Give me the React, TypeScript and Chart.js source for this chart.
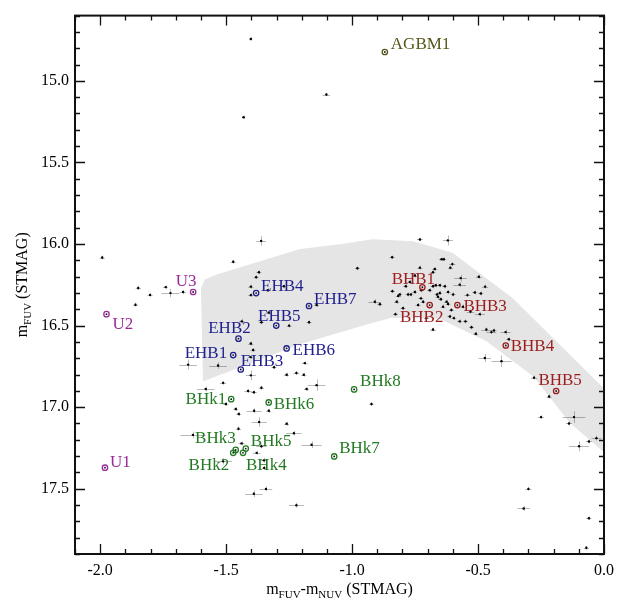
import { useEffect, useRef } from 'react';
import { Chart, registerables } from 'chart.js';

Chart.register(...registerables);

// Axis ticks
const xTicks = [-2.0, -1.5, -1.0, -0.5, 0.0];
const yTicks = [15.0, 15.5, 16.0, 16.5, 17.0, 17.5];

// Field stars: colour, magnitude and their uncertainties
const starX = [
  -1.402, -1.431, -1.102, -1.992, -1.849, -1.802, -1.860, -1.740, -1.721, -1.671,
  -1.361, -1.472, -1.370, -1.381, -1.402, -1.402, -1.335, -1.271, -1.438, -1.360,
  -1.331, -1.250, -1.171, -1.141, -1.402, -1.393, -1.403, -1.651, -1.532, -1.402,
  -1.310, -1.188, -1.260, -1.221, -1.192, -1.141, -1.181, -1.512, -1.581, -1.413,
  -1.360, -1.390, -1.501, -1.462, -1.450, -1.389, -1.331, -1.369, -1.260, -1.451,
  -1.231, -1.632, -1.439, -1.360, -1.379, -1.161, -1.512, -1.350, -1.349, -1.342,
  -1.390, -1.221, -0.731, -0.620, -0.841, -0.645, -0.636, -0.979, -0.731, -0.672,
  -0.602, -0.610, -0.679, -0.569, -0.497, -0.751, -0.771, -0.787, -0.679, -0.668,
  -0.652, -0.632, -0.573, -0.472, -0.840, -0.811, -0.817, -0.778, -0.767, -0.751,
  -0.725, -0.692, -0.663, -0.652, -0.619, -0.599, -0.542, -0.513, -0.489, -0.823,
  -0.727, -0.718, -0.659, -0.648, -0.625, -0.619, -0.910, -0.890, -0.798, -0.738,
  -0.639, -0.606, -0.560, -0.530, -0.493, -0.828, -0.612, -0.596, -0.573, -0.550,
  -0.705, -0.679, -0.526, -0.509, -0.467, -0.447, -0.437, -0.391, -0.378, -0.473,
  -0.407, -0.278, -0.218, -0.250, -0.119, -0.139, -0.060, -0.030, -0.099, -0.923,
  -0.300, -0.319, -0.060, -0.070,
];
const starY = [
  14.743, 15.223, 15.084, 16.083, 16.270, 16.312, 16.372, 16.264, 16.301, 16.294,
  15.981, 16.109, 16.173, 16.203, 16.261, 16.313, 16.283, 16.259, 16.474, 16.480,
  16.420, 16.500, 16.480, 16.374, 16.610, 16.650, 16.693, 16.739, 16.745, 16.805,
  16.755, 16.730, 16.801, 16.791, 16.801, 16.865, 16.889, 16.851, 16.889, 16.901,
  16.881, 16.909, 16.981, 17.011, 17.042, 17.022, 17.022, 17.091, 17.102, 17.132,
  17.160, 17.170, 17.222, 17.240, 17.280, 17.230, 17.332, 17.326, 17.372, 17.501,
  17.531, 17.601, 15.972, 15.978, 16.081, 16.093, 16.093, 16.149, 16.145, 16.153,
  16.123, 16.145, 16.173, 16.209, 16.201, 16.193, 16.233, 16.259, 16.259, 16.253,
  16.253, 16.259, 16.249, 16.261, 16.289, 16.309, 16.318, 16.309, 16.309, 16.294,
  16.283, 16.283, 16.309, 16.300, 16.294, 16.309, 16.313, 16.297, 16.303, 16.354,
  16.333, 16.354, 16.324, 16.339, 16.354, 16.368, 16.354, 16.369, 16.393, 16.374,
  16.384, 16.404, 16.384, 16.414, 16.430, 16.430, 16.444, 16.454, 16.474, 16.474,
  16.454, 16.524, 16.510, 16.550, 16.524, 16.540, 16.530, 16.540, 16.584, 16.699,
  16.718, 16.819, 16.935, 17.061, 17.061, 17.100, 17.210, 17.190, 17.240, 16.981,
  17.501, 17.621, 17.681, 17.862,
];
const starXErr = [
  0.006, 0.006, 0.015, 0.010, 0.010, 0.010, 0.010, 0.010, 0.035, 0.012,
  0.020, 0.010, 0.010, 0.010, 0.010, 0.010, 0.010, 0.010, 0.010, 0.010,
  0.010, 0.010, 0.010, 0.010, 0.010, 0.010, 0.010, 0.035, 0.035, 0.020,
  0.010, 0.012, 0.010, 0.012, 0.010, 0.035, 0.010, 0.012, 0.035, 0.015,
  0.010, 0.012, 0.010, 0.010, 0.010, 0.030, 0.010, 0.030, 0.010, 0.010,
  0.030, 0.050, 0.012, 0.020, 0.015, 0.040, 0.035, 0.012, 0.010, 0.025,
  0.035, 0.030, 0.012, 0.020, 0.010, 0.010, 0.010, 0.010, 0.010, 0.010,
  0.012, 0.010, 0.010, 0.025, 0.012, 0.010, 0.010, 0.010, 0.010, 0.010,
  0.010, 0.010, 0.025, 0.012, 0.010, 0.010, 0.010, 0.010, 0.010, 0.010,
  0.010, 0.010, 0.010, 0.010, 0.010, 0.010, 0.012, 0.010, 0.010, 0.010,
  0.010, 0.010, 0.010, 0.010, 0.010, 0.010, 0.025, 0.010, 0.010, 0.010,
  0.010, 0.010, 0.010, 0.015, 0.020, 0.010, 0.010, 0.010, 0.010, 0.010,
  0.010, 0.012, 0.010, 0.010, 0.020, 0.020, 0.010, 0.020, 0.010, 0.025,
  0.040, 0.012, 0.010, 0.012, 0.045, 0.012, 0.012, 0.020, 0.040, 0.010,
  0.012, 0.025, 0.010, 0.010,
];
const starYErr = [
  0.010, 0.010, 0.010, 0.012, 0.012, 0.012, 0.012, 0.012, 0.025, 0.012,
  0.030, 0.012, 0.012, 0.012, 0.012, 0.012, 0.012, 0.012, 0.015, 0.012,
  0.012, 0.012, 0.012, 0.012, 0.012, 0.012, 0.012, 0.030, 0.020, 0.030,
  0.012, 0.012, 0.012, 0.012, 0.012, 0.035, 0.012, 0.012, 0.015, 0.012,
  0.012, 0.012, 0.012, 0.012, 0.012, 0.015, 0.012, 0.030, 0.012, 0.012,
  0.015, 0.020, 0.012, 0.012, 0.012, 0.020, 0.020, 0.015, 0.012, 0.015,
  0.020, 0.015, 0.010, 0.030, 0.010, 0.010, 0.010, 0.012, 0.012, 0.012,
  0.012, 0.012, 0.012, 0.020, 0.012, 0.012, 0.012, 0.012, 0.012, 0.012,
  0.012, 0.012, 0.015, 0.012, 0.012, 0.012, 0.012, 0.012, 0.012, 0.012,
  0.012, 0.012, 0.012, 0.012, 0.012, 0.012, 0.012, 0.012, 0.012, 0.012,
  0.012, 0.012, 0.012, 0.012, 0.012, 0.012, 0.015, 0.012, 0.012, 0.012,
  0.012, 0.012, 0.012, 0.012, 0.012, 0.012, 0.012, 0.012, 0.012, 0.012,
  0.012, 0.012, 0.012, 0.012, 0.012, 0.012, 0.012, 0.015, 0.012, 0.025,
  0.035, 0.012, 0.012, 0.012, 0.035, 0.012, 0.012, 0.015, 0.030, 0.012,
  0.012, 0.015, 0.012, 0.012,
];

// Named stars
const namedLabels = [
  'AGBM1', 'U1', 'U2', 'U3',
  'EHB1', 'EHB2', 'EHB3', 'EHB4', 'EHB5', 'EHB6', 'EHB7',
  'BHB1', 'BHB2', 'BHB3', 'BHB4', 'BHB5',
  'BHk1', 'BHk2', 'BHk3', 'BHk4', 'BHk5', 'BHk6', 'BHk7', 'BHk8',
];
const namedX = [
  -0.870, -1.981, -1.975, -1.631,
  -1.472, -1.451, -1.442, -1.381, -1.301, -1.260, -1.171,
  -0.721, -0.692, -0.582, -0.390, -0.190,
  -1.480, -1.472, -1.462, -1.433, -1.422, -1.331, -1.071, -0.992,
];
const namedY = [
  14.823, 17.371, 16.430, 16.294,
  16.681, 16.580, 16.769, 16.301, 16.500, 16.640, 16.380,
  16.265, 16.374, 16.374, 16.622, 16.901,
  16.951, 17.280, 17.262, 17.280, 17.254, 16.971, 17.302, 16.891,
];
const namedGroup = [
  'AGB', 'U', 'U', 'U',
  'EHB', 'EHB', 'EHB', 'EHB', 'EHB', 'EHB', 'EHB',
  'BHB', 'BHB', 'BHB', 'BHB', 'BHB',
  'BHk', 'BHk', 'BHk', 'BHk', 'BHk', 'BHk', 'BHk', 'BHk',
];

// Outline of the shaded horizontal-branch band (upper edge, then lower edge back)
const bandX = [
  -1.600, -1.585, -1.537, -1.207, -1.049, -0.918, -0.759, -0.652, -0.600, -0.362, 0.0,
  0.0, -0.136, -0.279, -0.465, -0.652, -0.843, -0.942, -1.207, -1.592, -1.600,
];
const bandY = [
  16.271, 16.217, 16.187, 16.031, 16.001, 15.971, 15.983, 16.031, 16.055, 16.332, 16.885,
  17.276, 17.096, 16.813, 16.597, 16.458, 16.452, 16.494, 16.614, 16.843, 16.271,
];

const groupColors: Record<string, string> = {
  AGB: '#56561a',
  U: '#9a2a9a',
  EHB: '#1e1e8c',
  BHB: '#9c1c1c',
  BHk: '#237a23',
};

// Label placement relative to each marker: [dx, dy, align]
const labelPlacement: Record<string, [number, number, CanvasTextAlign]> = {
  AGBM1: [6, -9, 'left'],
  U1: [5, -7, 'left'],
  U2: [6, 9, 'left'],
  U3: [-7, -12, 'center'],
  EHB1: [-6, -3, 'right'],
  EHB2: [-9, -12, 'center'],
  EHB3: [0, -9, 'left'],
  EHB4: [5, -8, 'left'],
  EHB5: [3, -11, 'center'],
  EHB6: [6, 1, 'left'],
  EHB7: [5, -8, 'left'],
  BHB1: [-9, -9, 'center'],
  BHB2: [-8, 11, 'center'],
  BHB3: [6, 0, 'left'],
  BHB4: [5, 0, 'left'],
  BHB5: [4, -12, 'center'],
  BHk1: [-5, -1, 'right'],
  BHk2: [-4, 11, 'right'],
  BHk3: [0, -13, 'right'],
  BHk4: [3, 11, 'left'],
  BHk5: [5, -9, 'left'],
  BHk6: [5, 1, 'left'],
  BHk7: [5, -9, 'left'],
  BHk8: [6, -9, 'left'],
};

const SERIF = "'Liberation Serif', 'Times New Roman', 'DejaVu Serif', serif";

type Seg = { t: string; sub?: boolean };

function drawRich(ctx: CanvasRenderingContext2D, segs: Seg[], x: number, y: number) {
  const big = `16px ${SERIF}`;
  const small = `11px ${SERIF}`;
  let w = 0;
  for (const s of segs) {
    ctx.font = s.sub ? small : big;
    w += ctx.measureText(s.t).width;
  }
  let cx = x - w / 2;
  ctx.textAlign = 'left';
  ctx.textBaseline = 'alphabetic';
  for (const s of segs) {
    ctx.font = s.sub ? small : big;
    ctx.fillText(s.t, cx, y + (s.sub ? 4 : 0));
    cx += ctx.measureText(s.t).width;
  }
}

const errorBarPlugin = {
  id: 'errorBars',
  beforeDatasetDraw(chart: any, args: any) {
    if (args.index !== 1) return;
    const { ctx, scales } = chart;
    const xs = scales.x;
    const ys = scales.y;
    ctx.save();
    ctx.strokeStyle = 'rgba(0,0,0,0.28)';
    ctx.lineWidth = 1;
    ctx.beginPath();
    for (let i = 0; i < starX.length; i++) {
      const px = xs.getPixelForValue(starX[i]);
      const py = ys.getPixelForValue(starY[i]);
      const x0 = xs.getPixelForValue(starX[i] - starXErr[i]);
      const x1 = xs.getPixelForValue(starX[i] + starXErr[i]);
      const y0 = ys.getPixelForValue(starY[i] - starYErr[i]);
      const y1 = ys.getPixelForValue(starY[i] + starYErr[i]);
      ctx.moveTo(x0, Math.round(py) + 0.5);
      ctx.lineTo(x1, Math.round(py) + 0.5);
      ctx.moveTo(Math.round(px) + 0.5, y0);
      ctx.lineTo(Math.round(px) + 0.5, y1);
    }
    ctx.stroke();
    ctx.restore();
  },
};

const labelPlugin = {
  id: 'namedLabels',
  afterDatasetsDraw(chart: any) {
    const { ctx, scales } = chart;
    ctx.save();
    ctx.font = `17px ${SERIF}`;
    ctx.textBaseline = 'alphabetic';
    for (let i = 0; i < namedLabels.length; i++) {
      const name = namedLabels[i];
      const [dx, dy, align] = labelPlacement[name];
      const px = scales.x.getPixelForValue(namedX[i]);
      const py = scales.y.getPixelForValue(namedY[i]);
      ctx.fillStyle = groupColors[namedGroup[i]];
      ctx.textAlign = align;
      ctx.fillText(name, px + dx, py + dy + 6);
    }
    ctx.restore();
  },
};

const framePlugin = {
  id: 'frameTicks',
  afterDraw(chart: any) {
    const { ctx, chartArea, scales } = chart;
    const { left, right, top, bottom } = chartArea;
    const xs = scales.x;
    const ys = scales.y;
    ctx.save();
    ctx.strokeStyle = '#111';
    // minor and major ticks, pointing inward on all four sides
    ctx.lineWidth = 1.3;
    ctx.beginPath();
    for (let k = -21; k <= 0; k++) {
      const v = k / 10;
      const major = xTicks.some((t) => Math.abs(t - v) < 1e-6);
      const len = major ? 10 : 5;
      const px = Math.round(xs.getPixelForValue(v)) + 0.5;
      ctx.moveTo(px, bottom);
      ctx.lineTo(px, bottom - len);
      ctx.moveTo(px, top);
      ctx.lineTo(px, top + len);
    }
    for (let k = 146; k <= 179; k++) {
      const v = k / 10;
      const major = yTicks.some((t) => Math.abs(t - v) < 1e-6);
      const len = major ? 10 : 5;
      const py = Math.round(ys.getPixelForValue(v)) + 0.5;
      ctx.moveTo(left, py);
      ctx.lineTo(left + len, py);
      ctx.moveTo(right, py);
      ctx.lineTo(right - len, py);
    }
    ctx.stroke();
    ctx.lineWidth = 2;
    ctx.strokeRect(left, top, right - left, bottom - top);

    // axis titles
    ctx.fillStyle = '#000';
    drawRich(
      ctx,
      [{ t: 'm' }, { t: 'FUV', sub: true }, { t: '-m' }, { t: 'NUV', sub: true }, { t: ' (STMAG)' }],
      (left + right) / 2,
      594,
    );
    ctx.translate(27, (top + bottom) / 2);
    ctx.rotate(-Math.PI / 2);
    drawRich(ctx, [{ t: 'm' }, { t: 'FUV', sub: true }, { t: ' (STMAG)' }], 0, 0);
    ctx.restore();
  },
};

export default function App() {
  const canvasRef = useRef<HTMLCanvasElement | null>(null);

  useEffect(() => {
    document.body.style.margin = '0';
    const canvas = canvasRef.current;
    if (!canvas) return;

    const bandData = bandX.map((x, i) => ({ x, y: bandY[i] }));
    const starData = starX.map((x, i) => ({ x, y: starY[i] }));
    const namedData = namedX.map((x, i) => ({ x, y: namedY[i] }));
    const namedColors = namedGroup.map((g) => groupColors[g]);

    const tickFont = { family: SERIF, size: 16 };

    const chart = new Chart(canvas, {
      type: 'scatter',
      data: {
        datasets: [
          {
            type: 'line',
            label: 'band',
            data: bandData,
            showLine: true,
            fill: 'shape',
            tension: 0,
            backgroundColor: '#e5e5e5',
            borderColor: '#e5e5e5',
            borderWidth: 0,
            pointRadius: 0,
            order: 3,
          } as any,
          {
            label: 'field',
            data: starData,
            pointRadius: 1.2,
            pointBackgroundColor: '#000',
            pointBorderWidth: 0,
            order: 2,
          },
          {
            label: 'named',
            data: namedData,
            pointRadius: 2.7,
            pointBackgroundColor: 'rgba(255,255,255,0)',
            pointBorderColor: namedColors,
            pointBorderWidth: 1.3,
            order: 1,
          },
          {
            label: 'namedCore',
            data: namedData,
            pointRadius: 0.9,
            pointBackgroundColor: '#111',
            pointBorderWidth: 0,
            order: 0,
          },
        ],
      },
      options: {
        responsive: false,
        maintainAspectRatio: false,
        animation: false,
        events: [],
        layout: { padding: { top: 5, right: 30, left: 0, bottom: 0 } },
        plugins: {
          legend: { display: false },
          tooltip: { enabled: false },
        },
        scales: {
          x: {
            type: 'linear',
            min: -2.1,
            max: 0.0,
            grid: { display: false, drawTicks: false },
            border: { display: false },
            afterBuildTicks: (s: any) => {
              s.ticks = xTicks.map((v) => ({ value: v }));
            },
            afterFit: (s: any) => {
              s.height = 47;
            },
            ticks: {
              font: tickFont,
              color: '#000',
              padding: 7,
              maxRotation: 0,
              autoSkip: false,
              callback: (v: any) => Number(v).toFixed(1),
            },
          },
          y: {
            type: 'linear',
            reverse: true,
            min: 14.6,
            max: 17.9,
            grid: { display: false, drawTicks: false },
            border: { display: false },
            afterBuildTicks: (s: any) => {
              s.ticks = yTicks.map((v) => ({ value: v }));
            },
            afterFit: (s: any) => {
              s.width = 75;
            },
            ticks: {
              font: tickFont,
              color: '#000',
              padding: 6,
              autoSkip: false,
              callback: (v: any) => Number(v).toFixed(1),
            },
          },
        },
      },
      plugins: [errorBarPlugin, labelPlugin, framePlugin],
    });

    return () => chart.destroy();
  }, []);

  return (
    <div style={{ width: 634, height: 601 }}>
      <canvas ref={canvasRef} width={634} height={601} style={{ display: 'block' }} />
    </div>
  );
}
